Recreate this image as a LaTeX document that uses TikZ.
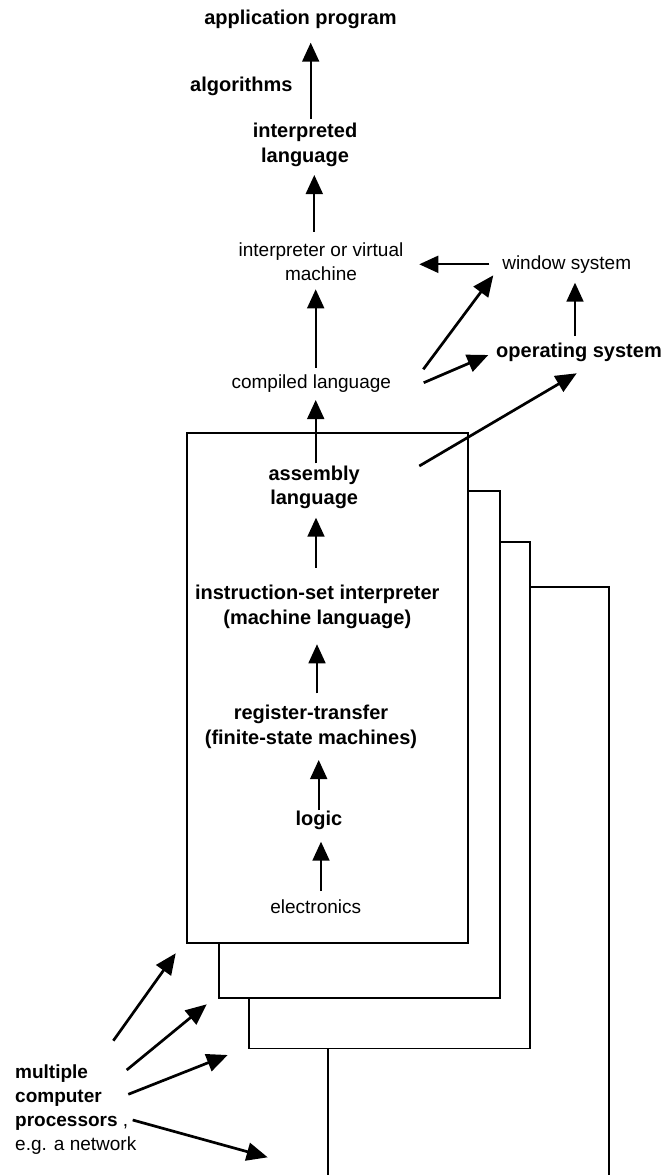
\documentclass[tikz,border=0pt]{standalone}
\usepackage{fontspec}
\setmainfont{Liberation Sans}
\usetikzlibrary{arrows.meta}
\begin{document}
\begin{tikzpicture}[x=1pt,y=-1pt,
  lab/.style={inner sep=0pt, align=center, font=\fontsize{19}{24}\selectfont},
  blab/.style={inner sep=0pt, align=center, font=\fontsize{20}{24.5}\selectfont\bfseries},
  arr/.style={-{Triangle[length=19pt,width=17pt]}, line width=1.8pt},
  darr/.style={-{Triangle[length=21pt,width=18pt]}, line width=2.7pt},
  box/.style={draw, line width=1.7pt, fill=white}]
\useasboundingbox (0,0) rectangle (666,1175);

% stacked processor boxes
\draw[box] (328,1177) -- (328,587) -- (609,587) -- (609,1177);
\draw[box] (249,542) rectangle (530,1048.5);
\draw[box] (219,491) rectangle (500,998.3);
\draw[box] (187,433) rectangle (468,943.3);

% labels
\node[blab] (app)   at (300.5,19)    {application program};
\node[blab] (alg)   at (241.3,86)    {algorithms};
\node[blab] (ilang) at (305,144.7)   {interpreted\\language};
\node[lab]  (ivm)   at (321,261.3)   {interpreter or virtual\\machine};
\node[lab]  (win)   at (566.7,264.3) {window system};
\node[lab]  (comp)  at (311.3,383.3) {compiled language};
\node[blab] (os)    at (579,352)     {operating system};
\node[blab] (asm)   at (314.2,487.5) {assembly\\language};
\node[blab] (isi)   at (317.3,607)   {instruction-set interpreter\\(machine language)};
\node[blab] (reg)   at (311,726.7)   {register-transfer\\(finite-state machines)};
\node[blab] (logic) at (319,820.7)   {logic};
\node[lab]  (elec)  at (315.7,906.7) {electronics};
\node[lab, align=left, anchor=west] (mcp) at (15,1109.5)
  {\textbf{multiple}\\\textbf{computer}\\\textbf{processors} ,\\e.g. a network};

% upward arrows
\draw[arr] ([xshift=5.7pt,yshift=25.7pt]ilang.center) -- ([xshift=10.2pt,yshift=-23.7pt]app.center);
\draw[arr] ([xshift=-6.7pt,yshift=29.6pt]ivm.center) -- ([xshift=9.3pt,yshift=-30.3pt]ilang.center);
\draw[arr] ([xshift=-77.4pt]win.center) -- ([xshift=98.3pt,yshift=-3pt]ivm.center);
\draw[arr] ([xshift=4.4pt,yshift=15.6pt]comp.center) -- ([xshift=-5.3pt,yshift=-28pt]ivm.center);
\draw[darr] ([xshift=112pt,yshift=14pt]comp.center) -- ([xshift=-73.4pt,yshift=-11pt]win.center);
\draw[darr] ([xshift=112.4pt,yshift=0.6pt]comp.center) -- ([xshift=-90.7pt,yshift=-3pt]os.center);
\draw[arr] ([xshift=-4pt,yshift=16pt]os.center) -- ([xshift=8.3pt,yshift=-18.4pt]win.center);
\draw[darr] ([xshift=105.1pt,yshift=21.5pt]asm.center) -- ([xshift=-2.3pt,yshift=-21.3pt]os.center);
\draw[arr] ([xshift=1.5pt,yshift=24.2pt]asm.center) -- ([xshift=4.4pt,yshift=-16.7pt]comp.center);
\draw[arr] ([xshift=-1.3pt,yshift=39.3pt]isi.center) -- ([xshift=1.8pt,yshift=-30.2pt]asm.center);
\draw[arr] ([xshift=6pt,yshift=33.4pt]reg.center) -- ([xshift=-0.3pt,yshift=-37.3pt]isi.center);
\draw[arr] ([xshift=-0.3pt,yshift=10.7pt]logic.center) -- ([xshift=7.7pt,yshift=-33.3pt]reg.center);
\draw[arr] ([xshift=5.3pt,yshift=15.7pt]elec.center) -- ([xshift=2pt,yshift=-21pt]logic.center);

% arrows from the processors label to the boxes
\coordinate (t1) at (113.3,1040.7); \coordinate (h1) at (175.7,953.3);
\coordinate (t2) at (126.7,1070);   \coordinate (h2) at (206.7,1004.3);
\coordinate (t3) at (128.3,1094.3); \coordinate (h3) at (227.7,1055);
\coordinate (t4) at (132.7,1120);   \coordinate (h4) at (267.7,1157.3);
\draw[darr] (t1) -- (h1);
\draw[darr] (t2) -- (h2);
\draw[darr] (t3) -- (h3);
\draw[darr] (t4) -- (h4);
\end{tikzpicture}
\end{document}
